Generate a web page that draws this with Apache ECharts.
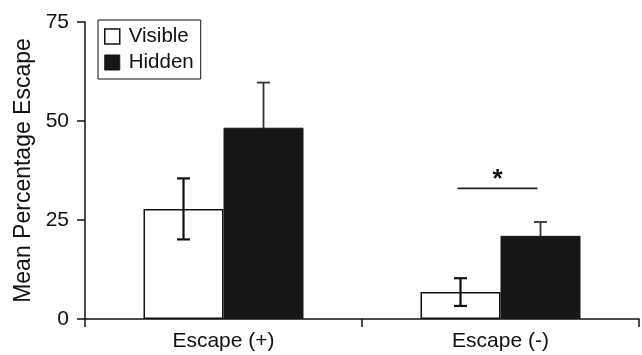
<!DOCTYPE html>
<html>
<head>
<meta charset="utf-8">
<script src="https://cdn.jsdelivr.net/npm/echarts@6/dist/echarts.min.js"></script>
<style>
html,body{margin:0;padding:0;background:#fff;}
#chart{width:642px;height:355px;}
</style>
</head>
<body>
<div id="chart"></div>
<script>
var categories = ['Escape (+)', 'Escape (-)'];
var seriesNames = ['Visible', 'Hidden'];
var visibleMean = [27.8, 6.8];
var visibleErr = [7.7, 3.5];
var hiddenMean = [48.3, 21.0];
var hiddenErr = [11.4, 3.5];
var yTicks = [0, 25, 50, 75];
var sigCategory = 1;
var sigLineY = 33;
var sigStarY = 36.2;
var sigLabel = '*';

var FONT = 'Liberation Sans, Arial, Helvetica, sans-serif';
var BAR_W = 80;

var chart = echarts.init(document.getElementById('chart'), null, {renderer: 'canvas'});

function errData(mean, err) {
  return mean.map(function (m, i) { return [i, m - err[i], m + err[i]]; });
}

function errRender(offsetSign, color, lw) {
  return function (params, api) {
    var i = api.value(0);
    var lo = api.coord([i, api.value(1)]);
    var hi = api.coord([i, api.value(2)]);
    var x = lo[0] + offsetSign * BAR_W / 2;
    var cap = 6.5;
    return {
      type: 'group',
      children: [
        {type: 'line', shape: {x1: x, y1: lo[1], x2: x, y2: hi[1]}, style: {stroke: color, lineWidth: lw}},
        {type: 'line', shape: {x1: x - cap, y1: hi[1], x2: x + cap, y2: hi[1]}, style: {stroke: color, lineWidth: lw}},
        {type: 'line', shape: {x1: x - cap, y1: lo[1], x2: x + cap, y2: lo[1]}, style: {stroke: color, lineWidth: lw}}
      ]
    };
  };
}

var option = {
  animation: false,
  backgroundColor: '#ffffff',
  textStyle: {fontFamily: FONT},
  grid: {left: 85, right: 3, top: 22, bottom: 36, containLabel: false},
  legend: {
    data: [
      {name: 'Visible', itemStyle: {color: '#ffffff', borderColor: '#111', borderWidth: 1.5}},
      {name: 'Hidden', itemStyle: {color: '#161616', borderColor: '#161616', borderWidth: 1}}
    ],
    orient: 'vertical',
    left: 98,
    top: 20,
    padding: [6, 7, 6, 6],
    itemWidth: 15,
    itemHeight: 15,
    itemGap: 5,
    icon: 'rect',
    borderColor: '#111',
    borderWidth: 1,
    backgroundColor: '#fff',
    textStyle: {fontSize: 20.5, color: '#111', fontFamily: FONT, padding: [0, 0, 0, 4]}
  },
  xAxis: {
    type: 'category',
    data: categories,
    boundaryGap: true,
    axisLine: {lineStyle: {color: '#111', width: 1.5}},
    axisTick: {show: true, inside: false, length: 8, lineStyle: {color: '#111', width: 1.5}},
    axisLabel: {fontSize: 21, color: '#111', margin: 12, fontFamily: FONT},
    splitLine: {show: false}
  },
  yAxis: {
    type: 'value',
    min: yTicks[0],
    max: yTicks[yTicks.length - 1],
    interval: 25,
    name: 'Mean Percentage Escape',
    nameLocation: 'middle',
    nameGap: 48,
    nameTextStyle: {fontSize: 23, color: '#111', fontFamily: FONT},
    axisLine: {show: true, lineStyle: {color: '#111', width: 1.5}},
    axisTick: {show: true, inside: false, length: 8, lineStyle: {color: '#111', width: 1.5}},
    axisLabel: {fontSize: 21, color: '#111', margin: 16, fontFamily: FONT},
    splitLine: {show: false}
  },
  series: [
    {
      name: seriesNames[0],
      type: 'bar',
      data: visibleMean,
      barWidth: BAR_W,
      barGap: '0%',
      itemStyle: {color: '#ffffff', borderColor: '#111', borderWidth: 1.5},
      z: 2
    },
    {
      name: seriesNames[1],
      type: 'bar',
      data: hiddenMean,
      barWidth: BAR_W,
      barGap: '0%',
      itemStyle: {color: '#161616', borderColor: '#161616', borderWidth: 1},
      z: 3
    },
    {
      type: 'custom',
      name: 'errVisible',
      data: errData(visibleMean, visibleErr),
      renderItem: errRender(-1, '#111', 2.2),
      z: 5,
      silent: true
    },
    {
      type: 'custom',
      name: 'errHidden',
      data: errData(hiddenMean, hiddenErr),
      renderItem: errRender(1, '#333', 1.8),
      z: 1,
      silent: true
    },
    {
      type: 'custom',
      name: 'sig',
      data: [[sigCategory, sigLineY, sigStarY]],
      renderItem: function (params, api) {
        var i = api.value(0);
        var p = api.coord([i, api.value(1)]);
        var s = api.coord([i, api.value(2)]);
        var x1 = p[0] - BAR_W / 2 - 3;
        var x2 = p[0] + BAR_W / 2 - 3;
        return {
          type: 'group',
          children: [
            {type: 'line', shape: {x1: x1, y1: p[1], x2: x2, y2: p[1]}, style: {stroke: '#222', lineWidth: 1.8}},
            {type: 'text', x: (x1 + x2) / 2, y: s[1] + 4, style: {text: sigLabel, fontSize: 26, fontWeight: 'bold', fontFamily: FONT, fill: '#111', textAlign: 'center', textVerticalAlign: 'middle'}}
          ]
        };
      },
      z: 5,
      silent: true
    }
  ]
};
chart.setOption(option);
</script>
</body>
</html>
